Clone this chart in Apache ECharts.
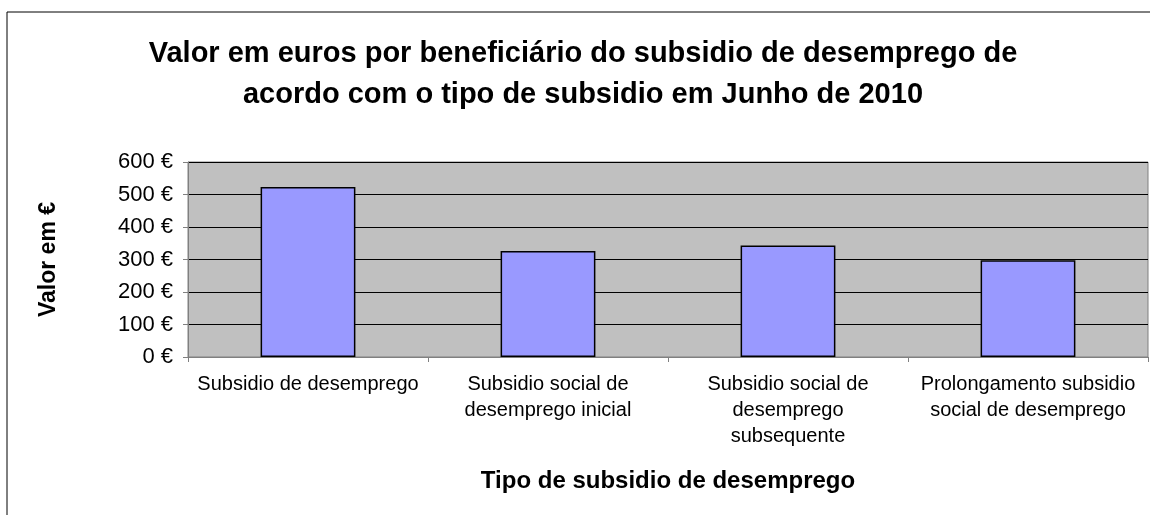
<!DOCTYPE html>
<html>
<head>
<meta charset="utf-8">
<script src="https://cdn.jsdelivr.net/npm/echarts@6/dist/echarts.min.js"></script>
<style>
html,body{margin:0;padding:0;background:#fff;}
#chart{width:1150px;height:515px;}
</style>
</head>
<body>
<div id="chart"></div>
<script>
//dados
var categorias = [
	"Subsidio de desemprego",
	"Subsidio social de\ndesemprego inicial",
	"Subsidio social de\ndesemprego\nsubsequente",
	"Prolongamento subsidio\nsocial de desemprego"
];
var valores = [523, 326, 343, 298];
var titulo = "Valor em euros por beneficiário do subsidio de desemprego de\nacordo com o tipo de subsidio em Junho de 2010";

var chartDom = document.getElementById("chart");
var myChart = echarts.init(chartDom);
var fonte = "Liberation Sans, Arial, sans-serif";

option = {
	animation: false,
	backgroundColor: '#fff',
	textStyle: {
		fontFamily: fonte
	},
	graphic: [
		{
			type: 'rect',
			shape: {x: 7, y: 12, width: 1300, height: 700},
			style: {fill: 'none', stroke: '#000', lineWidth: 1},
			silent: true
		}
	],
	title: {
		text: titulo,
		left: 578,
		top: 28,
		textAlign: 'center',
		textStyle: {
			fontFamily: fonte,
			fontSize: 29,
			fontWeight: 'bold',
			color: '#000',
			lineHeight: 41
		}
	},
	grid: {
		left: 188,
		right: 2,
		top: 162,
		bottom: 158,
		show: true,
		backgroundColor: '#C0C0C0',
		borderColor: '#808080',
		borderWidth: 1
	},
	xAxis: {
		type: 'category',
		data: categorias,
		name: 'Tipo de subsidio de desemprego',
		nameLocation: 'middle',
		nameGap: 112,
		nameTextStyle: {
			fontFamily: fonte,
			fontSize: 24,
			fontWeight: 'bold',
			color: '#000'
		},
		axisLine: {
			lineStyle: {color: '#808080'}
		},
		axisTick: {
			show: true,
			length: 5,
			lineStyle: {color: '#808080'}
		},
		axisLabel: {
			interval: 0,
			margin: 14,
			fontSize: 20,
			lineHeight: 26,
			color: '#000'
		}
	},
	yAxis: {
		type: 'value',
		min: 0,
		max: 600,
		interval: 100,
		name: 'Valor em €',
		nameLocation: 'middle',
		nameGap: 128,
		nameRotate: 90,
		nameTextStyle: {
			fontFamily: fonte,
			fontSize: 23,
			fontWeight: 'bold',
			color: '#000'
		},
		axisLine: {
			show: true,
			lineStyle: {color: '#808080'}
		},
		axisTick: {
			show: true,
			length: 5,
			lineStyle: {color: '#808080'}
		},
		axisLabel: {
			formatter: '{value} €',
			fontSize: 22,
			margin: 15,
			color: '#000'
		},
		splitLine: {
			lineStyle: {color: '#000', width: 1}
		}
	},
	series: [
		{
			type: 'bar',
			data: valores,
			barWidth: '39.5%',
			itemStyle: {
				color: '#9999FF',
				borderColor: '#000',
				borderWidth: 1.5
			}
		}
	]
};

myChart.setOption(option);
</script>
</body>
</html>
